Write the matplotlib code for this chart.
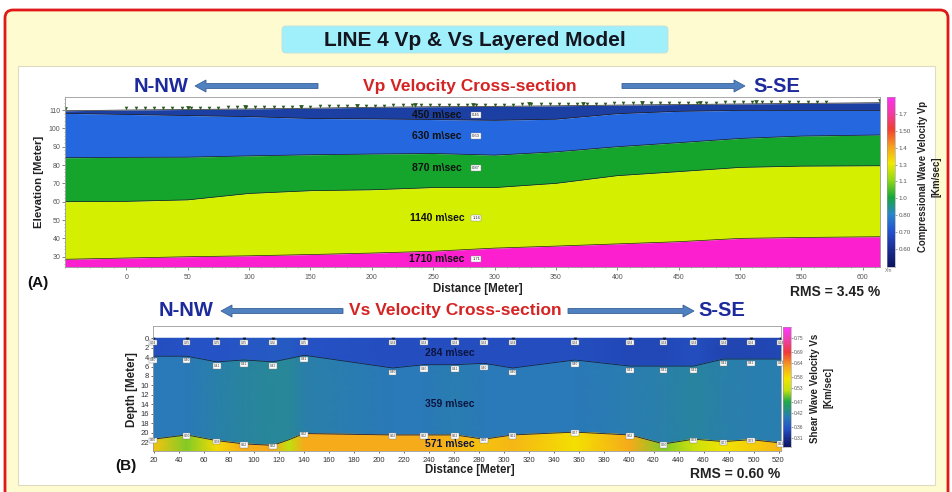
import numpy as np
import matplotlib
matplotlib.use("Agg")
import matplotlib.pyplot as plt
from matplotlib.colors import LinearSegmentedColormap
from matplotlib.patches import FancyBboxPatch, FancyArrow, Rectangle

plt.rcParams.update({
    "font.family": ["Liberation Sans", "DejaVu Sans"],
    "axes.linewidth": 0.6,
})

W, H = 952, 492

# ---------------------------------------------------------------------------
# Vp section: layer boundaries (elevation, m) along the profile
# ---------------------------------------------------------------------------
vp_x = [-50, 0, 50, 100, 150, 200, 250, 300, 350, 400, 450, 500, 550, 614]
vp_surface = [109.6, 110.0, 110.3, 110.6, 111.0, 111.5, 111.8, 112.0, 112.3, 112.7, 113.0, 113.3, 113.6, 114.0]
vp_base_450 = [108.2, 107.6, 107.0, 106.4, 105.4, 105.2, 104.8, 104.4, 105.0, 108.0, 109.3, 109.8, 109.8, 109.8]
vp_base_630 = [84.0, 84.2, 84.3, 85.0, 85.6, 86.0, 86.3, 85.4, 87.2, 90.0, 92.2, 94.5, 95.8, 96.4]
vp_base_870 = [60.0, 60.2, 61.0, 64.5, 66.0, 66.5, 67.7, 67.7, 70.0, 74.2, 76.4, 78.7, 79.4, 79.6]
vp_base_1140 = [28.6, 29.3, 30.0, 30.5, 31.2, 32.0, 33.0, 34.7, 35.8, 37.0, 38.2, 40.0, 40.5, 40.9]
vp_bottom = 24.4

vp_layer_text = ["450 m\\sec", "630 m\\sec", "870 m\\sec", "1140 m\\sec", "1710 m\\sec"]
vp_layer_kms = ["0.45", "0.63", "0.87", "1.16", "1.71"]
vp_label_elev = [107.3, 96.0, 78.4, 51.0, 29.0]
vp_colors = ["#1c3fa4", "#2467de", "#15a42c", "#d4ef00", "#fc1fd0"]
vp_cbar_labels = ["0.60", "0.70", "0.80", "1.0", "1.1", "1.3", "1.4", "1.50", "1.7"]

geophones = [0, 7.5, 15, 22.5, 30, 37.5, 45, 52.5, 60, 67.5, 75, 82.5, 90, 97.5,
             105, 112.5, 120, 127.5, 135, 142.5, 150, 157.5, 165, 172.5, 180, 187.5,
             195, 202.5, 210, 217.5, 225, 232.5, 240, 247.5, 255, 262.5, 270, 277.5,
             285, 292.5, 300, 307.5, 315, 322.5, 330, 337.5, 345, 352.5, 360, 367.5,
             375, 382.5, 390, 397.5, 405, 412.5, 420, 427.5, 435, 442.5, 450, 457.5,
             465, 472.5, 480, 487.5, 495, 502.5, 510, 517.5, 525, 532.5, 540, 547.5,
             555, 562.5, 570]
shots = [-50, 50, 97, 142, 188, 235, 282, 328, 372, 420, 467, 513, 614]

# ---------------------------------------------------------------------------
# Vs section: layer bases (depth, m) and colour values (km/s) at the nodes
# ---------------------------------------------------------------------------
vs_x = [19, 46, 70, 92, 115, 128, 140, 211, 236, 261, 284, 307, 357, 401, 428, 452, 476, 498, 522]
vs_base_284 = [3.8, 3.8, 5.0, 4.6, 5.0, 4.3, 3.6, 6.3, 5.6, 5.6, 5.3, 6.3, 4.6, 5.9, 5.9, 5.9, 4.4, 4.4, 4.4]
vs_base_359 = [21.4, 20.5, 21.7, 22.4, 22.7, 21.5, 20.2, 20.5, 20.5, 20.5, 21.4, 20.5, 19.9, 20.5, 22.4, 21.4, 21.9, 21.5, 22.2]
vs_v1 = [0.345, 0.35, 0.35, 0.355, 0.36, 0.36, 0.35, 0.345, 0.345, 0.345, 0.345, 0.345, 0.345, 0.34, 0.34, 0.345, 0.335, 0.335, 0.34]
vs_v2 = [0.40, 0.40, 0.41, 0.415, 0.42, 0.42, 0.41, 0.40, 0.40, 0.405, 0.40, 0.40, 0.40, 0.405, 0.41, 0.415, 0.41, 0.405, 0.405]
vs_v3 = [0.60, 0.50, 0.58, 0.62, 0.62, 0.52, 0.62, 0.62, 0.62, 0.61, 0.60, 0.61, 0.575, 0.62, 0.50, 0.53, 0.57, 0.59, 0.61]
vs_bottom = 23.9
vs_layer_text = ["284 m\\sec", "359 m\\sec", "571 m\\sec"]
vs_label_depth = [3.1, 14.0, 22.5]
vs_cbar_ticks = [0.31, 0.36, 0.42, 0.47, 0.53, 0.58, 0.64, 0.69, 0.75]

vp_cmap = LinearSegmentedColormap.from_list("vp", [
    (0.00, "#0b1660"), (0.11, "#1c2f98"), (0.21, "#2352d0"), (0.31, "#2a86cc"),
    (0.41, "#16a83a"), (0.51, "#90d818"), (0.61, "#f2ea00"), (0.71, "#f7a020"),
    (0.81, "#f24030"), (0.91, "#f43aa8"), (1.00, "#ff30f0")])
vs_cmap = LinearSegmentedColormap.from_list("vs", [
    (0.00, "#0c1660"), (0.075, "#1a2f8e"), (0.15, "#2552c6"), (0.245, "#2a7ab8"),
    (0.38, "#22aa48"), (0.47, "#c0e010"), (0.57, "#f4e400"), (0.68, "#f6a020"),
    (0.79, "#f03a3a"), (0.90, "#f040b0"), (1.00, "#ff38ff")])


def px_box(x0, y0, x1, y1):
    return [x0 / W, 1 - y1 / H, (x1 - x0) / W, (y1 - y0) / H]


fig = plt.figure(figsize=(W / 100, H / 100), dpi=100)

# page background, frame and headings drawn in pixel units
bg = fig.add_axes([0, 0, 1, 1], zorder=0)
bg.set_xlim(0, W)
bg.set_ylim(H, 0)
bg.axis("off")
bg.add_patch(FancyBboxPatch((5, 10), 943, 500, boxstyle="round,pad=0,rounding_size=8",
                            facecolor="#fffbd0", edgecolor="#e01818", lw=2))
bg.add_patch(Rectangle((18, 66), 917, 419, facecolor="white", edgecolor="#dedcc0", lw=0.8))
bg.add_patch(FancyBboxPatch((282, 26), 386, 27, boxstyle="round,pad=0,rounding_size=4",
                            facecolor="#9ff0fb", edgecolor="#c0dede", lw=0.6))
bg.text(475, 40, "LINE 4 Vp & Vs Layered Model", ha="center", va="center",
        fontsize=15, fontweight="bold", color="#151520")


def heading(y, left_x, title, title_x, right_x, arrow_l, arrow_r):
    bg.text(left_x, y, "N-NW", ha="center", va="center", fontsize=14.5,
            fontweight="bold", color="#1c2a9c")
    bg.text(title_x, y, title, ha="center", va="center", fontsize=12.5,
            fontweight="bold", color="#d42424")
    bg.text(right_x, y, "S-SE", ha="center", va="center", fontsize=14.5,
            fontweight="bold", color="#1c2a9c")
    for x0, x1 in (arrow_l, arrow_r):
        bg.add_patch(FancyArrow(x0, y, x1 - x0, 0, width=5, head_width=12,
                                head_length=11, length_includes_head=True,
                                facecolor="#4f80c0", edgecolor="#3a6298", lw=0.6))


heading(86, 161, "Vp Velocity Cross-section", 470, 777, (318, 195), (622, 745))
heading(311, 186, "Vs Velocity Cross-section", 455, 722, (343, 221), (568, 694))

# ---------------------------------------------------------------------------
# (A) Vp cross-section
# ---------------------------------------------------------------------------
axA = fig.add_axes(px_box(65, 97, 880, 267), zorder=1)
tops = [vp_surface, vp_base_450, vp_base_630, vp_base_870, vp_base_1140]
bottoms = [vp_base_450, vp_base_630, vp_base_870, vp_base_1140, [vp_bottom] * len(vp_x)]
for top, bot, c in zip(tops, bottoms, vp_colors):
    axA.fill_between(vp_x, bot, top, color=c, lw=0)
for line in tops:
    axA.plot(vp_x, line, color="#202020", lw=0.5)

geo_elev = np.interp(geophones, vp_x, vp_surface) + 0.9
axA.plot(geophones, geo_elev, "v", color="#2c5a22", ms=2.6, mew=0)
shot_elev = np.interp(shots, vp_x, vp_surface) + 0.9
axA.plot(shots, shot_elev, "v", color="#2c5a22", ms=3.4, mew=0)

for txt, kms, el in zip(vp_layer_text, vp_layer_kms, vp_label_elev):
    axA.text(253, el, txt, ha="center", va="center", fontsize=7.5,
             fontweight="bold", color="#101010")
    axA.text(285, el, kms, ha="center", va="center", fontsize=3, color="#222222",
             bbox=dict(boxstyle="square,pad=0.25", fc="white", ec="#888888", lw=0.3))

axA.set_xlim(-50, 614)
axA.set_ylim(vp_bottom, 117.1)
axA.set_xticks(range(0, 601, 50))
axA.set_xticks(range(-50, 614, 10), minor=True)
axA.set_yticks(range(30, 111, 10))
axA.set_yticks(range(26, 117, 2), minor=True)
axA.tick_params(labelsize=5, colors="#555555", length=2, width=0.5, pad=1.5)
axA.tick_params(which="minor", length=1, width=0.4, colors="#777777")
axA.tick_params(axis="x", pad=3)
for s in axA.spines.values():
    s.set_color("#9a9a9a")

bg.text(39, 182, "Elevation [Meter]", rotation=90, ha="center", va="center",
        fontsize=8.2, fontweight="bold", color="#222222")
bg.text(478, 289, "Distance [Meter]", ha="center", va="center", fontsize=8.3,
        fontweight="bold", color="#222222")
bg.text(38, 283, "(A)", ha="center", va="center", fontsize=11, fontweight="bold", color="#111111")
bg.text(880, 292, "RMS = 3.45 %", ha="right", va="center", fontsize=10,
        fontweight="bold", color="#222222")
bg.text(885, 270, "Xm", ha="left", va="center", fontsize=3.5, color="#777777")

# Vp colour bar
cbA = fig.add_axes(px_box(887, 97, 895, 267), zorder=1)
n_lab = len(vp_cbar_labels)
grad = np.linspace(0, 1, 256).reshape(-1, 1)
cbA.imshow(grad, cmap=vp_cmap, aspect="auto", origin="lower",
           extent=(0, 1, -1.07, n_lab + 0.0))
cbA.set_xlim(0, 1)
cbA.set_ylim(-1.07, n_lab + 0.0)
cbA.set_xticks([])
cbA.yaxis.tick_right()
cbA.set_yticks(range(n_lab))
cbA.set_yticklabels(vp_cbar_labels)
cbA.tick_params(labelsize=4.5, colors="#555555", length=1.5, width=0.4, pad=1)
for s in cbA.spines.values():
    s.set_color("#9a9a9a")
    s.set_linewidth(0.4)
bg.text(923, 177, "Compressional Wave Velocity Vp", rotation=90, ha="center",
        va="center", fontsize=6.9, fontweight="bold", color="#222222")
bg.text(936, 177, "[Km/sec]", rotation=90, ha="center", va="center",
        fontsize=6.9, fontweight="bold", color="#222222")

# ---------------------------------------------------------------------------
# (B) Vs cross-section
# ---------------------------------------------------------------------------
axB = fig.add_axes(px_box(153, 326, 781, 451), zorder=1)
n = len(vs_x)
X = np.array([vs_x] * 6, dtype=float)
Y = np.array([[0.0] * n, vs_base_284, vs_base_284, vs_base_359, vs_base_359, [vs_bottom] * n])
C = np.array([vs_v1, vs_v1, vs_v2, vs_v2, vs_v3, vs_v3])
axB.pcolormesh(X, Y, C, shading="gouraud", cmap=vs_cmap, vmin=0.27, vmax=0.80)
axB.plot(vs_x, vs_base_284, color="#18204a", lw=0.6)
axB.plot(vs_x, vs_base_359, color="#18204a", lw=0.6)

node_box = dict(boxstyle="square,pad=0.2", fc="white", ec="#7a7a7a", lw=0.3)
for i, x in enumerate(vs_x):
    if x in (128,):
        continue
    axB.plot(x, 0.1, "v", color="#111111", ms=2.6, mew=0)
    axB.text(x, 0.9, f"{vs_v1[i]:.2f}", ha="center", va="center", fontsize=2.3,
             color="#333333", bbox=node_box)
    axB.text(x, vs_base_284[i] + 0.9, f"{vs_v2[i]:.2f}", ha="center", va="center",
             fontsize=2.3, color="#333333", bbox=node_box)
    axB.text(x, vs_base_359[i] + 0.2, f"{vs_v3[i]:.2f}", ha="center", va="center",
             fontsize=2.3, color="#333333", bbox=node_box)

for txt, d in zip(vs_layer_text, vs_label_depth):
    axB.text(257, d, txt, ha="center", va="center", fontsize=7.5,
             fontweight="bold", color="#0c1440")

axB.set_xlim(19, 522)
axB.set_ylim(vs_bottom, -2.6)
axB.set_xticks(range(20, 521, 20))
axB.set_yticks(range(0, 23, 2))
axB.tick_params(labelsize=5.5, colors="#333333", length=1.5, width=0.5, pad=1.5)
axB.tick_params(axis="x", pad=2.5)
for s in axB.spines.values():
    s.set_color("#9a9a9a")

bg.text(132, 390, "Depth [Meter]", rotation=90, ha="center", va="center",
        fontsize=8.4, fontweight="bold", color="#222222")
bg.text(470, 470, "Distance [Meter]", ha="center", va="center", fontsize=8.3,
        fontweight="bold", color="#222222")
bg.text(126, 466, "(B)", ha="center", va="center", fontsize=11, fontweight="bold", color="#111111")
bg.text(780, 474, "RMS = 0.60 %", ha="right", va="center", fontsize=10,
        fontweight="bold", color="#222222")

# Vs colour bar
cbB = fig.add_axes(px_box(783, 327, 791, 447), zorder=1)
cbB.imshow(grad, cmap=vs_cmap, aspect="auto", origin="lower", extent=(0, 1, 0.27, 0.80))
cbB.set_xlim(0, 1)
cbB.set_ylim(0.27, 0.80)
cbB.set_xticks([])
cbB.yaxis.tick_right()
cbB.set_yticks(vs_cbar_ticks)
cbB.set_yticklabels([f"{t:.2f}" for t in vs_cbar_ticks])
cbB.tick_params(labelsize=3.5, colors="#555555", length=1.2, width=0.4, pad=1)
for s in cbB.spines.values():
    s.set_color("#9a9a9a")
    s.set_linewidth(0.4)
bg.text(815, 388, "Shear Wave Velocity Vs", rotation=90, ha="center", va="center",
        fontsize=7, fontweight="bold", color="#222222")
bg.text(828, 388, "[Km/sec]", rotation=90, ha="center", va="center",
        fontsize=7, fontweight="bold", color="#222222")

fig.savefig("out.png", dpi=100)
